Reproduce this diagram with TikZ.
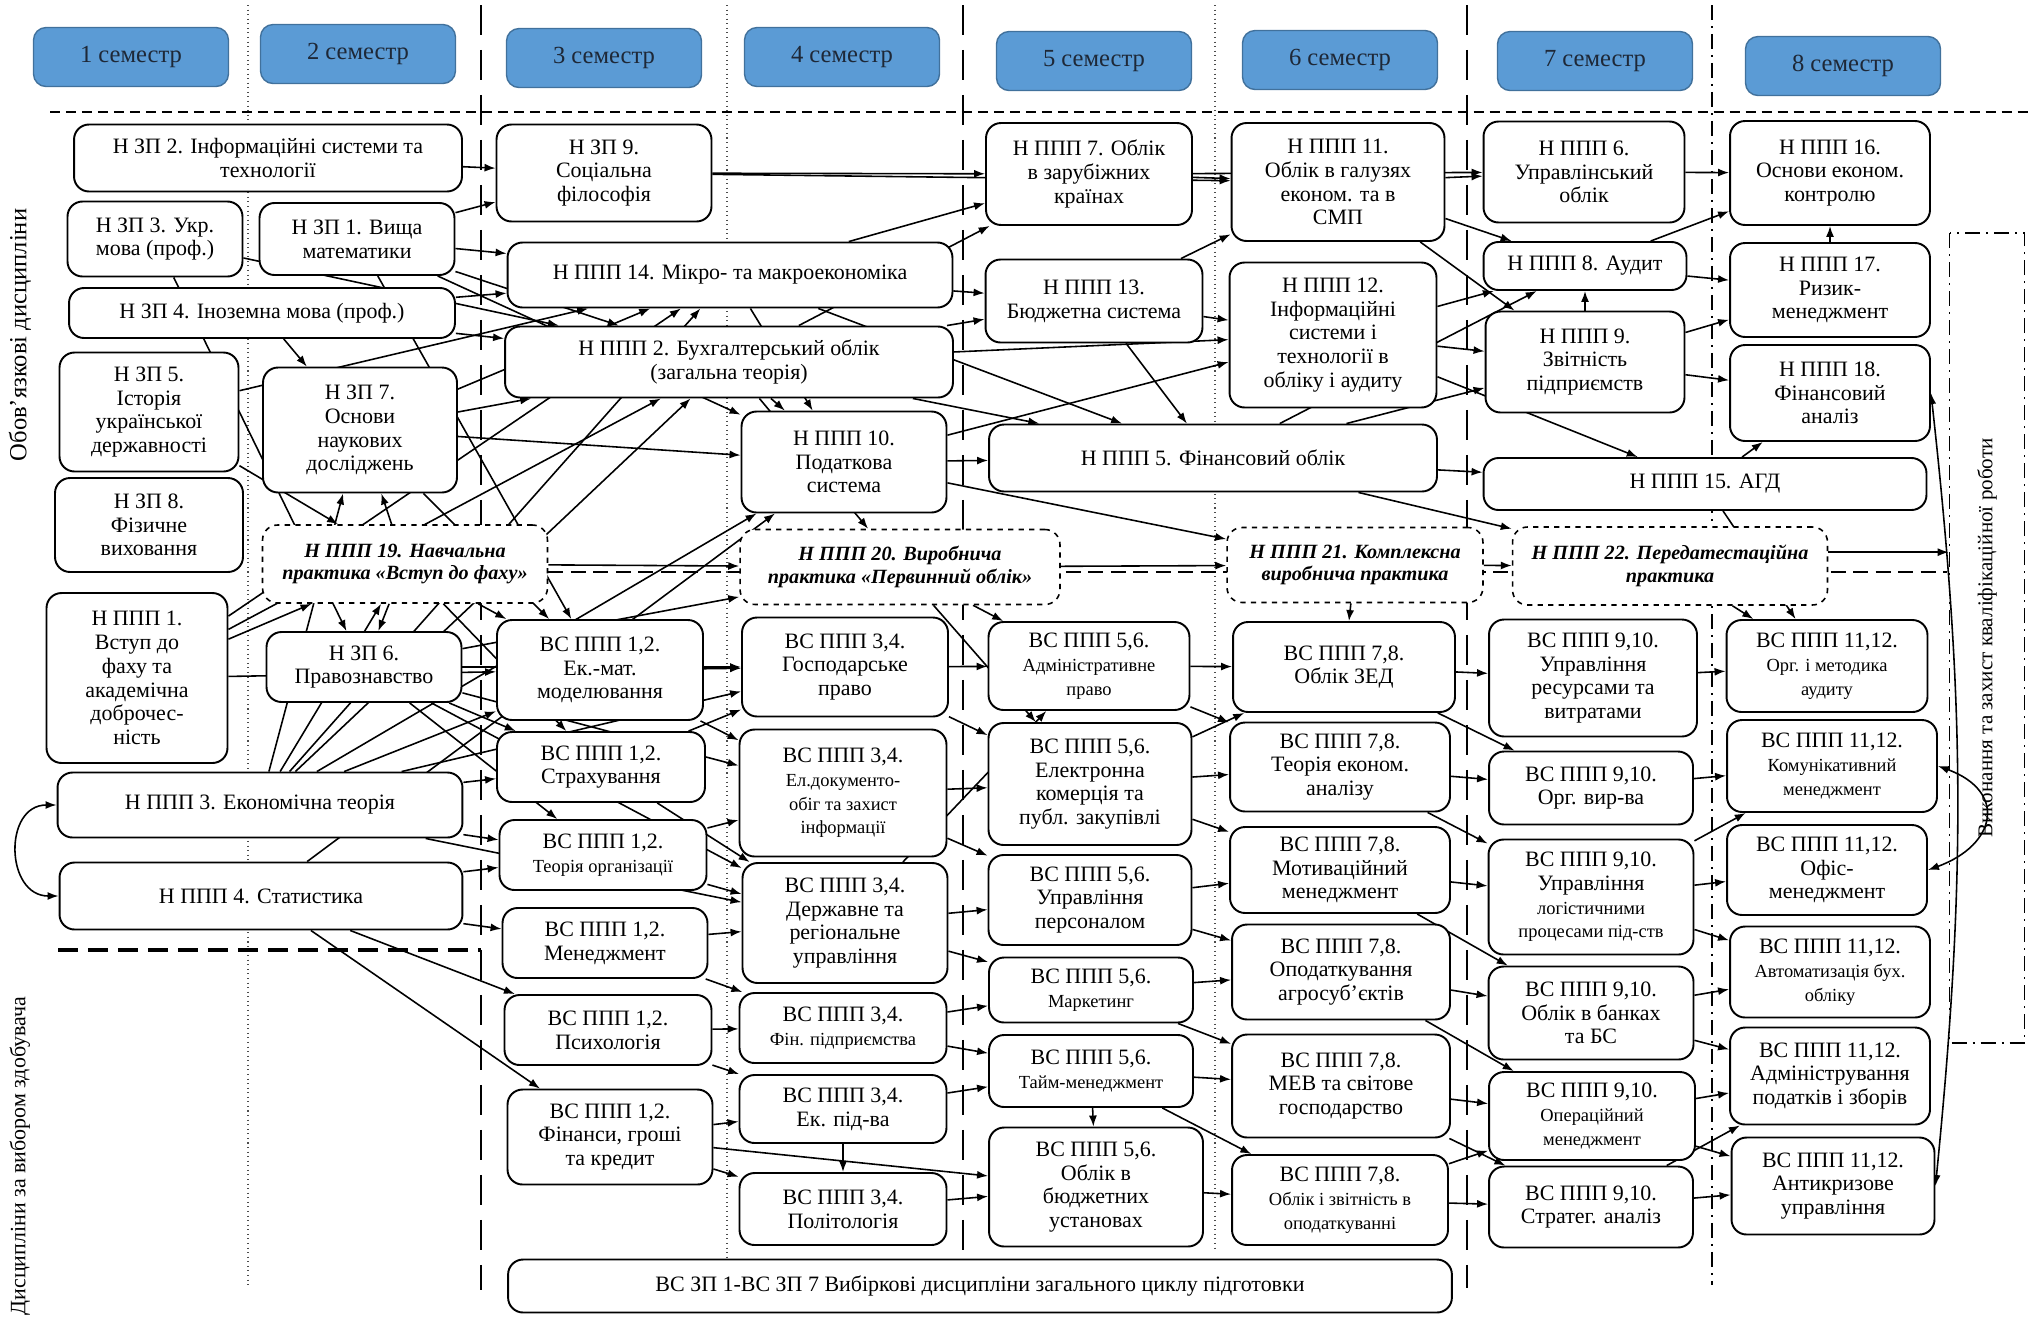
\documentclass[tikz,border=0pt]{standalone}
\usepackage{fontspec}
\setmainfont{Liberation Serif}
\usetikzlibrary{arrows.meta, positioning, backgrounds}

\definecolor{semblue}{RGB}{91,155,213}
\definecolor{semedge}{RGB}{65,113,156}
\definecolor{semtext}{RGB}{30,40,55}
\newcommand{\dsc}{\fontsize{10.5}{12}\selectfont}

\begin{document}
\begin{tikzpicture}[
    x=0.02cm, y=-0.02cm,
    box/.style={rectangle, draw, line width=1.1pt, rounded corners=3mm, fill=white, align=center, inner sep=1pt, font=\fontsize{12.5}{13.5}\selectfont},
    wh/.style 2 args={minimum width=#1cm, minimum height=#2cm},
    prac/.style={box, dashed, line width=0.9pt, font=\fontsize{11.5}{13}\selectfont\bfseries\itshape},
    sem/.style={rectangle, rounded corners=2.5mm, draw=semedge, line width=0.8pt, fill=semblue, text=semtext, minimum width=3.9cm, minimum height=1.18cm, font=\fontsize{14}{16}\selectfont},
    side/.style={rotate=90, font=\fontsize{14}{16}\selectfont},
    arrow/.style={-{Latex[length=2.2mm, width=1.6mm]}, line width=0.9pt},
    both/.style={{Latex[length=2.2mm, width=1.6mm]}-{Latex[length=2.2mm, width=1.6mm]}, line width=0.9pt},
    dotsep/.style={dotted, line width=0.6pt, black!70},
    dashsep/.style={dash pattern=on 6mm off 3mm, line width=1.6pt},
    dotdash/.style={dash pattern=on 3mm off 1.2mm on 0.4mm off 1.2mm, line width=0.9pt}
]
    \useasboundingbox (0,0) rectangle (2035,1316);

    % Semesters
    \node[sem] (s1) at (131,57) {1 семестр};
    \node[sem] (s2) at (358,54) {2 семестр};
    \node[sem] (s3) at (604,58) {3 семестр};
    \node[sem] (s4) at (842,57) {4 семестр};
    \node[sem] (s5) at (1094,61) {5 семестр};
    \node[sem] (s6) at (1340,60) {6 семестр};
    \node[sem] (s7) at (1595,61) {7 семестр};
    \node[sem] (s8) at (1843,66) {8 семестр};

    % Side labels
    \node[side] (oblig) at (20,335) {Обов’язкові дисципліни};
    \node[side, font=\fontsize{12.5}{14}\selectfont] (vybir) at (20,1156) {Дисципліни за вибором здобувача};
    \node[rotate=90, draw, dotdash, minimum width=16.2cm, minimum height=1.5cm, font=\fontsize{12}{14}\selectfont] (vkr) at (1987,638) {Виконання та захист кваліфікаційної роботи};

    % Semesters 1-2
    \node[box, wh={7.76}{1.34}] (zp2) at (268,158) {Н ЗП 2. Інформаційні системи та\\технології};
    \node[box, wh={3.5}{1.5}] (zp3) at (155,239) {Н ЗП 3. Укр.\\мова (проф.)};
    \node[box, wh={3.9}{1.44}] (zp1) at (357,239) {Н ЗП 1. Вища\\математики};
    \node[box, wh={7.72}{1.0}] (zp4) at (262,313) {Н ЗП 4. Іноземна мова (проф.)};
    \node[box, wh={3.58}{2.38}] (zp5) at (149,412) {Н ЗП 5.\\Історія\\української\\державності};
    \node[box, wh={3.88}{2.5}] (zp7) at (360,430) {Н ЗП 7.\\Основи\\наукових\\досліджень};
    \node[box, wh={3.76}{1.88}] (zp8) at (149,525) {Н ЗП 8.\\Фізичне\\виховання};
    \node[prac, wh={5.7}{1.56}] (p19) at (405,564) {Н ППП 19. Навчальна\\практика «Вступ до фаху»};
    \node[box, wh={3.62}{3.4}] (p1) at (137,678) {Н ППП 1.\\Вступ до\\фаху та\\академічна\\доброчес-\\ність};
    \node[box, wh={3.9}{1.4}] (zp6) at (364,667) {Н ЗП 6.\\Правознавство};
    \node[box, wh={8.1}{1.3}] (p3) at (260,805) {Н ППП 3. Економічна теорія};
    \node[box, wh={8.06}{1.34}] (p4) at (261,896) {Н ППП 4. Статистика};

    % Semesters 3-4
    \node[box, wh={4.3}{1.94}] (zp9) at (604,173) {Н ЗП 9.\\Соціальна\\філософія};
    \node[box, wh={8.9}{1.3}] (p14) at (730,275) {Н ППП 14. Мікро- та макроекономіка};
    \node[box, wh={8.96}{1.42}] (p2) at (729,362) {Н ППП 2. Бухгалтерський облік\\(загальна теорія)};
    \node[box, wh={4.1}{2.02}] (p10) at (844,462) {Н ППП 10.\\Податкова\\система};
    \node[prac, wh={6.4}{1.5}] (p20) at (900,567) {Н ППП 20. Виробнича\\практика «Первинний облік»};
    \node[box, wh={4.12}{2.0}] (v12a) at (600,670) {ВС ППП 1,2.\\Ек.-мат.\\моделювання};
    \node[box, wh={4.16}{1.4}] (v12b) at (601,767) {ВС ППП 1,2.\\Страхування};
    \node[box, wh={4.14}{1.4}] (v12c) at (603,855) {ВС ППП 1,2.\\\dsc Теорія організації};
    \node[box, wh={4.1}{1.4}] (v12d) at (605,943) {ВС ППП 1,2.\\Менеджмент};
    \node[box, wh={4.14}{1.4}] (v12e) at (608,1030) {ВС ППП 1,2.\\Психологія};
    \node[box, wh={4.1}{1.9}] (v12f) at (610,1137) {ВС ППП 1,2.\\Фінанси, гроші\\та кредит};
    \node[box, wh={4.12}{1.98}] (v34a) at (845,667) {ВС ППП 3,4.\\Господарське\\право};
    \node[box, wh={4.14}{2.54}] (v34b) at (843,793) {ВС ППП 3,4.\\\dsc Ел.документо-\\\dsc обіг та захист\\\dsc інформації};
    \node[box, wh={4.1}{2.4}] (v34c) at (845,923) {ВС ППП 3,4.\\Державне та\\регіональне\\управління};
    \node[box, wh={4.14}{1.4}] (v34d) at (843,1028) {ВС ППП 3,4.\\\dsc Фін. підприємства};
    \node[box, wh={4.14}{1.36}] (v34e) at (843,1109) {ВС ППП 3,4.\\Ек. під-ва};
    \node[box, wh={4.14}{1.44}] (v34f) at (843,1209) {ВС ППП 3,4.\\Політологія};
    \node[box, wh={18.88}{1.06}] (vzp) at (980,1286) {ВС ЗП 1-ВС ЗП 7 Вибіркові дисципліни загального циклу підготовки};

    % Semesters 5-6
    \node[box, wh={4.12}{2.04}] (p7) at (1089,174) {Н ППП 7. Облік\\в зарубіжних\\країнах};
    \node[box, wh={4.34}{1.66}] (p13) at (1094,301) {Н ППП 13.\\Бюджетна система};
    \node[box, wh={4.26}{2.36}] (p11) at (1338,182) {Н ППП 11.\\Облік в галузях\\економ. та в\\СМП};
    \node[box, wh={4.14}{2.9}] (p12) at (1333,335) {Н ППП 12.\\Інформаційні\\системи і\\технології в\\обліку і аудиту};
    \node[box, wh={8.96}{1.34}] (p5) at (1213,458) {Н ППП 5. Фінансовий облік};
    \node[prac, wh={5.12}{1.5}] (p21) at (1355,565) {Н ППП 21. Комплексна\\виробнича практика};
    \node[box, wh={4.02}{1.76}] (v56a) at (1089,666) {ВС ППП 5,6.\\\dsc Адміністративне\\\dsc право};
    \node[box, wh={4.06}{2.44}] (v56b) at (1090,784) {ВС ППП 5,6.\\Електронна\\комерція та\\публ. закупівлі};
    \node[box, wh={4.06}{1.8}] (v56c) at (1090,900) {ВС ППП 5,6.\\Управління\\персоналом};
    \node[box, wh={4.08}{1.3}] (v56d) at (1091,990) {ВС ППП 5,6.\\\dsc Маркетинг};
    \node[box, wh={4.08}{1.44}] (v56e) at (1091,1071) {ВС ППП 5,6.\\\dsc Тайм-менеджмент};
    \node[box, wh={4.28}{2.38}] (v56f) at (1096,1187) {ВС ППП 5,6.\\Облік в\\бюджетних\\установах};
    \node[box, wh={4.44}{1.8}] (v78a) at (1344,667) {ВС ППП 7,8.\\Облік ЗЕД};
    \node[box, wh={4.4}{1.78}] (v78b) at (1340,767) {ВС ППП 7,8.\\Теорія економ.\\аналізу};
    \node[box, wh={4.4}{1.72}] (v78c) at (1340,870) {ВС ППП 7,8.\\Мотиваційний\\менеджмент};
    \node[box, wh={4.36}{1.9}] (v78d) at (1341,972) {ВС ППП 7,8.\\Оподаткування\\агросуб’єктів};
    \node[box, wh={4.36}{2.06}] (v78e) at (1341,1086) {ВС ППП 7,8.\\МЕВ та світове\\господарство};
    \node[box, wh={4.32}{1.8}] (v78f) at (1340,1200) {ВС ППП 7,8.\\\dsc Облік і звітність в\\\dsc оподаткуванні};

    % Semesters 7-8
    \node[box, wh={4.02}{2.02}] (p6) at (1584,172) {Н ППП 6.\\Управлінський\\облік};
    \node[box, wh={4.06}{0.96}] (p8) at (1585,266) {Н ППП 8. Аудит};
    \node[box, wh={3.98}{2.02}] (p9) at (1585,362) {Н ППП 9.\\Звітність\\підприємств};
    \node[box, wh={8.86}{1.04}] (p15) at (1705,484) {Н ППП 15. АГД};
    \node[prac, wh={6.3}{1.56}] (p22) at (1670,566) {Н ППП 22. Передатестаційна\\практика};
    \node[box, wh={4.0}{2.08}] (p16) at (1830,173) {Н ППП 16.\\Основи економ.\\контролю};
    \node[box, wh={4.0}{1.88}] (p17) at (1830,290) {Н ППП 17.\\Ризик-\\менеджмент};
    \node[box, wh={4.0}{1.92}] (p18) at (1830,393) {Н ППП 18.\\Фінансовий\\аналіз};
    \node[box, wh={4.16}{2.34}] (v910a) at (1593,678) {ВС ППП 9,10.\\Управління\\ресурсами та\\витратами};
    \node[box, wh={4.08}{1.46}] (v910b) at (1591,788) {ВС ППП 9,10.\\Орг. вир-ва};
    \node[box, wh={4.1}{2.3}] (v910c) at (1591,897) {ВС ППП 9,10.\\Управління\\\dsc логістичними\\\dsc процесами під-ств};
    \node[box, wh={4.1}{1.86}] (v910d) at (1591,1013) {ВС ППП 9,10.\\Облік в банках\\та БС};
    \node[box, wh={4.12}{1.76}] (v910e) at (1592,1116) {ВС ППП 9,10.\\\dsc Операційний\\\dsc менеджмент};
    \node[box, wh={4.08}{1.62}] (v910f) at (1591,1207) {ВС ППП 9,10.\\Стратег. аналіз};
    \node[box, wh={4.02}{1.84}] (v1112a) at (1827,666) {ВС ППП 11,12.\\\dsc Орг. і методика\\\dsc аудиту};
    \node[box, wh={4.2}{1.84}] (v1112b) at (1832,766) {ВС ППП 11,12.\\\dsc Комунікативний\\\dsc менеджмент};
    \node[box, wh={4.0}{1.8}] (v1112c) at (1827,870) {ВС ППП 11,12.\\Офіс-\\менеджмент};
    \node[box, wh={4.0}{1.82}] (v1112d) at (1830,972) {ВС ППП 11,12.\\\dsc Автоматизація бух.\\\dsc обліку};
    \node[box, wh={4.0}{1.94}] (v1112e) at (1830,1076) {ВС ППП 11,12.\\Адміністрування\\податків і зборів};
    \node[box, wh={4.06}{1.94}] (v1112f) at (1833,1186) {ВС ППП 11,12.\\Антикризове\\управління};

    \begin{scope}[on background layer]
        % Semester borders
        \draw[dotsep] (248,5) -- (248,1285);
        \draw[dashsep] (481,5) -- (481,1290);
        \draw[dotsep] (727,5) -- (727,1258);
        \draw[dashsep] (963,5) -- (963,1255);
        \draw[dotsep] (1215,5) -- (1215,1248);
        \draw[dashsep] (1467,5) -- (1467,1288);
        \draw[dotdash] (1712,5) -- (1712,1285);
        \draw[dash pattern=on 2mm off 1.2mm, line width=1pt] (50,112) -- (2030,112);
        \draw[dash pattern=on 4mm off 2mm, line width=2pt] (58,950) -- (481,950);
        \draw[dash pattern=on 3mm off 1.5mm, line width=1.4pt] (481,572) -- (1947,572);

        % Semesters 1-2
        \draw[arrow] (zp2) -- (zp9);
        \draw[arrow] (zp1) -- (zp9);
        \draw[arrow] (zp1) -- (p14);
        \draw[arrow] (zp1) -- (p2);
        \draw[arrow] (zp1) -- (p10);
        \draw[arrow] (zp1) -- (v12a);
        \draw[arrow] (zp4) -- (zp7);
        \draw[arrow] (zp4) -- (p14);
        \draw[arrow] (zp4) -- (p2);
        \draw[arrow] (zp3) -- (zp6);
        \draw[arrow] (zp3) -- (p2);
        \draw[arrow] (zp5) -- (p19);
        \draw[arrow] (zp5) -- (p14);
        \draw[arrow] (zp7) -- (p2);
        \draw[arrow] (zp7) -- (p14);
        \draw[arrow] (zp7) -- (p10);
        \draw[arrow] (zp7) -- (v12a);
        \draw[arrow] (p1) -- (p19);
        \draw[arrow] (p1) -- (p2);
        \draw[arrow] (p1) -- (p14);
        \draw[arrow] (p1) -- (v12a);
        \draw[arrow] (p19) -- (zp7);
        \draw[arrow] (p19) -- (zp6);
        \draw[arrow] (p19) -- (p20);
        \draw[arrow] (p19) -- (v12a);
        \draw[arrow] (p19) -- (v12b);
        \draw[arrow] (p3) -- (p19);
        \draw[arrow] (p3) -- (zp7);
        \draw[arrow] (p3) -- (p14);
        \draw[arrow] (p3) -- (p2);
        \draw[arrow] (p3) -- (p10);
        \draw[arrow] (p3) -- (v12a);
        \draw[arrow] (p3) -- (v12b);
        \draw[arrow] (p3) -- (v12c);
        \draw[arrow] (p3) -- (v34a);
        \draw[arrow] (p3) -- (v34c);
        \draw[arrow] (zp6) -- (v12b);
        \draw[arrow] (zp6) -- (v12c);
        \draw[arrow] (zp6) -- (v34a);
        \draw[arrow] (zp6) -- (v34b);
        \draw[arrow] (zp6) -- (v34c);
        \draw[arrow] (zp6) -- (p20);
        \draw[arrow] (p4) -- (v12c);
        \draw[arrow] (p4) -- (v12d);
        \draw[arrow] (p4) -- (v12e);
        \draw[arrow] (p4) -- (v12f);
        \draw[arrow] (p4) -- (p10);
        \draw[both] (p3.west) to[out=180, in=180, looseness=1.5] (p4.west);

        % Semesters 3-4
        \draw[arrow] (zp9) -- (p7);
        \draw[arrow] (zp9) -- (p11);
        \draw[arrow] (p14) -- (p7);
        \draw[arrow] (p14) -- (p13);
        \draw[arrow] (p14) -- (p5);
        \draw[arrow] (p14) -- (p10);
        \draw[arrow] (p2) -- (p7);
        \draw[arrow] (p2) -- (p13);
        \draw[arrow] (p2) -- (p5);
        \draw[arrow] (p2) -- (p12);
        \draw[arrow] (p2) -- (p10);
        \draw[arrow] (p2) -- (p20);
        \draw[arrow] (p10) -- (p5);
        \draw[arrow] (p10) -- (p12);
        \draw[arrow] (p10) -- (p21);
        \draw[arrow] (p20) -- (p21);
        \draw[arrow] (p20) -- (v56a);
        \draw[arrow] (p20) -- (v56b);
        \draw[arrow] (v12a) -- (v34a);
        \draw[arrow] (v12a) -- (v34b);
        \draw[arrow] (v12b) -- (v34a);
        \draw[arrow] (v12b) -- (v34c);
        \draw[arrow] (v12c) -- (v34b);
        \draw[arrow] (v12c) -- (v34c);
        \draw[arrow] (v12d) -- (v34c);
        \draw[arrow] (v12d) -- (v34d);
        \draw[arrow] (v12e) -- (v34d);
        \draw[arrow] (v12e) -- (v34e);
        \draw[arrow] (v12f) -- (v34e);
        \draw[arrow] (v12f) -- (v34f);
        \draw[arrow] (v12f) -- (v56f);
        \draw[arrow] (v34a) -- (v56a);
        \draw[arrow] (v34a) -- (v56b);
        \draw[arrow] (v34b) -- (v56b);
        \draw[arrow] (v34b) -- (v56c);
        \draw[arrow] (v34c) -- (v56a);
        \draw[arrow] (v34c) -- (v56c);
        \draw[arrow] (v34c) -- (v56d);
        \draw[arrow] (v34d) -- (v56d);
        \draw[arrow] (v34d) -- (v56e);
        \draw[arrow] (v34e) -- (v56e);
        \draw[arrow] (v34e) -- (v34f);
        \draw[arrow] (v34f) -- (v56f);

        % Semesters 5-6
        \draw[arrow] (p7) -- (p11);
        \draw[arrow] (p7) -- (p6);
        \draw[arrow] (p13) -- (p11);
        \draw[arrow] (p13) -- (p12);
        \draw[arrow] (p13) -- (p5);
        \draw[arrow] (p11) -- (p6);
        \draw[arrow] (p11) -- (p8);
        \draw[arrow] (p11) -- (p9);
        \draw[arrow] (p12) -- (p8);
        \draw[arrow] (p12) -- (p9);
        \draw[arrow] (p12) -- (p15);
        \draw[arrow] (p5) -- (p9);
        \draw[arrow] (p5) -- (p8);
        \draw[arrow] (p5) -- (p15);
        \draw[arrow] (p5) -- (p22);
        \draw[arrow] (p21) -- (p22);
        \draw[arrow] (p21) -- (v78a);
        \draw[arrow] (v56a) -- (v78a);
        \draw[arrow] (v56a) -- (v78b);
        \draw[arrow] (v56b) -- (v78a);
        \draw[arrow] (v56b) -- (v78b);
        \draw[arrow] (v56b) -- (v78c);
        \draw[arrow] (v56c) -- (v78c);
        \draw[arrow] (v56c) -- (v78d);
        \draw[arrow] (v56d) -- (v78d);
        \draw[arrow] (v56d) -- (v78e);
        \draw[arrow] (v56e) -- (v56f);
        \draw[arrow] (v56e) -- (v78e);
        \draw[arrow] (v56e) -- (v78f);
        \draw[arrow] (v56f) -- (v78f);
        \draw[arrow] (v78a) -- (v910a);
        \draw[arrow] (v78a) -- (v910b);
        \draw[arrow] (v78b) -- (v910b);
        \draw[arrow] (v78b) -- (v910c);
        \draw[arrow] (v78c) -- (v910c);
        \draw[arrow] (v78c) -- (v910d);
        \draw[arrow] (v78d) -- (v910d);
        \draw[arrow] (v78d) -- (v910e);
        \draw[arrow] (v78e) -- (v910e);
        \draw[arrow] (v78e) -- (v910f);
        \draw[arrow] (v78f) -- (v910f);
        \draw[arrow] (v78f) -- (v910e);

        % Semesters 7-8
        \draw[arrow] (p6) -- (p16);
        \draw[arrow] (p8) -- (p16);
        \draw[arrow] (p8) -- (p17);
        \draw[arrow] (p9) -- (p8);
        \draw[arrow] (p9) -- (p17);
        \draw[arrow] (p9) -- (p18);
        \draw[arrow] (p15) -- (p18);
        \draw[arrow] (p17) -- (p16);
        \draw[arrow] (p15) -- (v1112a);
        \draw[arrow] (p22) -- (v1112a);
        \draw[arrow] (p22.5) -- (p22.5 -| vkr.north);
        \draw[arrow] (v910a) -- (v1112a);
        \draw[arrow] (v910b) -- (v1112b);
        \draw[arrow] (v910c) -- (v1112b);
        \draw[arrow] (v910c) -- (v1112c);
        \draw[arrow] (v910c) -- (v1112d);
        \draw[arrow] (v910d) -- (v1112d);
        \draw[arrow] (v910d) -- (v1112e);
        \draw[arrow] (v910e) -- (v1112e);
        \draw[arrow] (v910e) -- (v1112f);
        \draw[arrow] (v910f) -- (v1112f);
        \draw[arrow] (v910f) -- (v1112e);
        \draw[both] (v1112b.east) to[out=-20, in=20, looseness=1.8] (v1112c.east);
        \draw[both] (p18.east) to[bend left=6] (v1112f.east);
    \end{scope}
\end{tikzpicture}
\end{document}
